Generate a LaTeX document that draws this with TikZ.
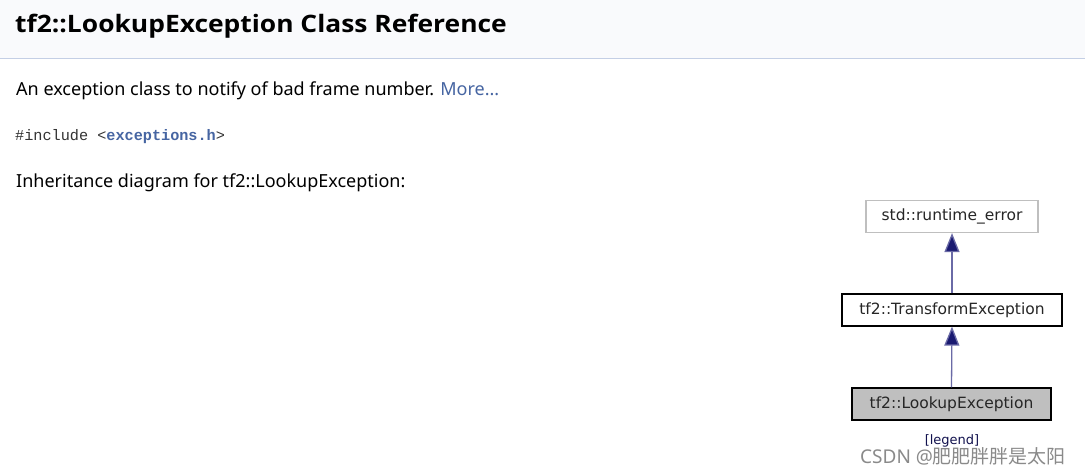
\documentclass[tikz,border=0pt]{standalone}
\usepackage{fontspec}
\setmainfont{Noto Sans}
\newfontfamily\titlef{Open Sans}[FakeStretch=1.1]
\newfontfamily\dejavu{DejaVu Sans}
\newfontfamily\cjk{Noto Sans CJK SC}
\newfontfamily\monof{Liberation Mono}
\usetikzlibrary{arrows.meta}
\definecolor{hdrbg}{HTML}{F9FAFC}
\definecolor{hdrline}{HTML}{C4CFE5}
\definecolor{linkc}{HTML}{4665A2}
\definecolor{navy}{HTML}{191970}
\definecolor{edgec}{HTML}{6A6AA6}
\definecolor{graybox}{HTML}{BFBFBF}
\definecolor{wm}{HTML}{8A8A8A}
\tikzset{
  cls/.style={draw=black, line width=1.2pt, minimum height=32pt, inner xsep=0pt, font=\dejavu\fontsize{15.5}{18}\selectfont, text=black!85},
  inh/.style={draw=edgec, line width=1.3pt, -{Triangle[length=19pt,width=15pt,fill=navy]}},
  para/.style={anchor=base west, font=\fontsize{18}{22}\selectfont}
}
\begin{document}
\begin{tikzpicture}[x=1pt,y=-1pt]
\useasboundingbox (0,0) rectangle (1085,474);
\fill[white] (0,0) rectangle (1085,474);
\fill[hdrbg] (0,0) rectangle (1085,58);
\draw[hdrline, line width=1pt] (0,58.5) -- (1085,58.5);
\node[anchor=base west, font=\titlef\bfseries\fontsize{24}{28}\selectfont, inner sep=0pt] (title) at (15,32) {tf2::LookupException Class Reference};
\node[para, inner sep=0pt] (brief) at (16,95) {An exception class to notify of bad frame number. \textcolor{linkc}{More...}};
\node[anchor=base west, inner sep=0pt, font=\monof\fontsize{15.2}{17}\selectfont, text=black!80] (inc) at (15,140) {\#include <\textcolor{linkc}{\bfseries exceptions.h}>};
\node[para, inner sep=0pt] (inh) at (16,187) {Inheritance diagram for tf2::LookupException:};
\node[cls, draw=graybox, minimum width=172pt] (std) at (952,216.5) {std::runtime\_error};
\node[cls, minimum width=220pt] (tfx) at (952,310) {tf2::TransformException};
\node[cls, fill=graybox, minimum width=199pt] (lkx) at (951.5,404) {tf2::LookupException};
\draw[inh] (tfx.north) -- (std.south);
\draw[inh] (lkx.north) -- (tfx.south);
\node[font=\dejavu\fontsize{13}{15}\selectfont, text=navy!70!black, inner sep=0pt] (leg) at (952,441) {[legend]};
\node[anchor=base west, inner sep=0pt, font=\fontsize{19}{22}\selectfont, text=wm] (wmk) at (860,463) {CSDN @{\cjk 肥肥胖胖是太阳}};
\end{tikzpicture}
\end{document}
